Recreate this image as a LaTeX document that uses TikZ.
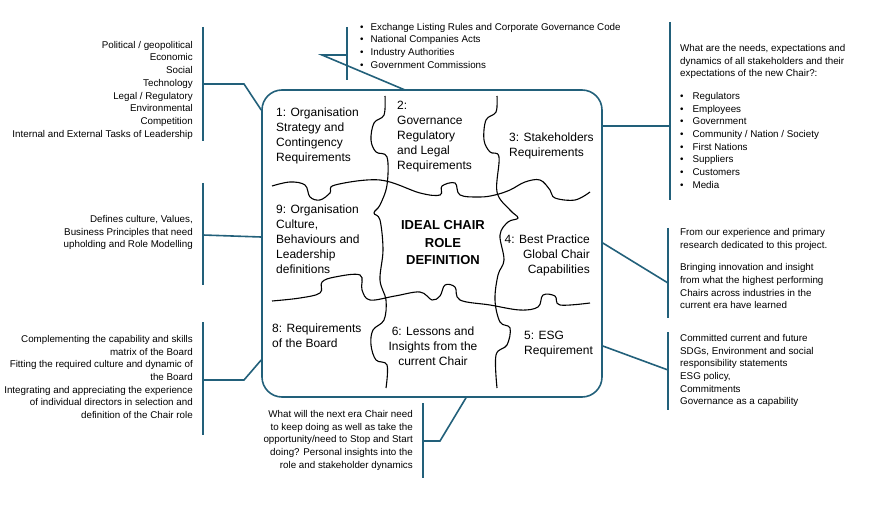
\documentclass[tikz,border=0pt]{standalone}
\usepackage{fontspec}
\setmainfont{Liberation Sans}
\usetikzlibrary{calc}
\definecolor{tealline}{HTML}{22607A}
\tikzset{
  brace/.style={draw=tealline, line width=1.6pt},
  piece/.style={line width=1.1pt, black},
  note/.style={font=\fontsize{9.8}{12.7}\selectfont, inner sep=0pt},
  label/.style={font=\fontsize{12}{15}\selectfont, inner sep=0pt},
}
\begin{document}
\begin{tikzpicture}[x=1pt,y=-1pt]
\useasboundingbox (0,0) rectangle (894,505);
% board frame
\node[draw=tealline, line width=1.6pt, rounded corners=20pt, minimum width=340pt, minimum height=307pt, inner sep=0pt] (board) at (432,243.5) {};
% puzzle cuts
\draw[piece] plot[smooth, tension=0.6] coordinates {(385,96) (384,115) (374,123) (371,140) (376,152) (387,157) (387,185) (380,205) (374,213) (380,220) (383,250) (380,280) (386,300) (384,320) (373,330) (371,345) (376,360) (387,365) (386,388)};
\draw[piece] plot[smooth, tension=0.6] coordinates {(497,96) (496,112) (486,120) (484,140) (490,152) (499,157) (497,192) (510,210) (518,218) (508,222) (500,235) (504,260) (498,275) (495,300) (500,322) (510,328) (507,345) (496,355) (497,388)};
\draw[piece] plot[smooth, tension=0.6] coordinates {(272,186) (290,182) (305,185) (310,197) (320,200) (330,193) (335,185) (380,180) (420,193) (440,195) (442,186) (455,183) (460,195) (480,197) (495,195) (510,190) (525,182) (540,180) (550,190) (555,198) (575,200) (590,192)};
\draw[piece] plot[smooth, tension=0.6] coordinates {(272,301) (300,298) (320,293) (322,282) (335,277) (360,275) (362,290) (370,300) (395,296) (420,292) (432,300) (440,296) (445,285) (455,287) (460,300) (490,305) (520,310) (538,307) (543,295) (555,296) (560,305) (590,303)};
% piece labels
\node[label, anchor=north west, align=left] (p1) at (276,108) {1: Organisation\\Strategy and\\Contingency\\Requirements};
\node[label, anchor=north west, align=left] (p2) at (397,101) {2:\\Governance\\Regulatory\\and Legal\\Requirements};
\node[label, anchor=north west, align=left] (p3) at (509,133) {3: Stakeholders\\Requirements};
\node[label, anchor=north west, align=left] (p9) at (276,205) {9: Organisation\\Culture,\\Behaviours and\\Leadership\\definitions};
\node[label, font=\fontsize{13}{17.5}\selectfont\bfseries, align=center] (centre) at (443,243) {IDEAL CHAIR\\ROLE\\DEFINITION};
\node[label, anchor=north east, align=right] (p4) at (590,235) {4: Best Practice\\Global Chair\\Capabilities};
\node[label, anchor=north west, align=left] (p8) at (272,324) {8: Requirements\\of the Board};
\node[label, anchor=north, align=center] (p6) at (433,327) {6: Lessons and\\Insights from the\\current Chair};
\node[label, anchor=north west, align=left] (p5) at (524,331) {5: ESG\\Requirement};
% notes
\node[note, anchor=north east, align=right] (nPest) at (193,41) {Political / geopolitical\\Economic\\Social\\Technology\\Legal / Regulatory\\Environmental\\Competition\\Internal and External Tasks of Leadership};
\node[note, anchor=north west, align=left] (nRules) at (360,23) {\textbullet\hspace{7pt}Exchange Listing Rules and Corporate Governance Code\\\textbullet\hspace{7pt}National Companies Acts\\\textbullet\hspace{7pt}Industry Authorities\\\textbullet\hspace{7pt}Government Commissions};
\node[note, anchor=north west, align=left] (nStake) at (680,44) {What are the needs, expectations and\\dynamics of all stakeholders and their\\expectations of the new Chair?:\\[10pt]\textbullet\hspace{9pt}Regulators\\\textbullet\hspace{9pt}Employees\\\textbullet\hspace{9pt}Government\\\textbullet\hspace{9pt}Community / Nation / Society\\\textbullet\hspace{9pt}First Nations\\\textbullet\hspace{9pt}Suppliers\\\textbullet\hspace{9pt}Customers\\\textbullet\hspace{9pt}Media};
\node[note, anchor=north west, align=left] (nBest) at (680,228) {From our experience and primary\\research dedicated to this project.\\[10pt]Bringing innovation and insight\\from what the highest performing\\Chairs across industries in the\\current era have learned};
\node[note, anchor=north west, align=left] (nEsg) at (680,334) {Committed current and future\\SDGs, Environment and social\\responsibility statements\\ESG policy,\\Commitments\\Governance as a capability};
\node[note, anchor=north east, align=right] (nCult) at (193,215) {Defines culture, Values,\\Business Principles that need\\upholding and Role Modelling};
\node[note, anchor=north east, align=right] (nBoard) at (193,335) {Complementing the capability and skills\\matrix of the Board\\Fitting the required culture and dynamic of\\the Board\\Integrating and appreciating the experience\\of individual directors in selection and\\definition of the Chair role};
\node[note, anchor=north east, align=right] (nLess) at (413,410) {What will the next era Chair need\\to keep doing as well as take the\\opportunity/need to Stop and Start\\doing? Personal insights into the\\role and stakeholder dynamics};
% brackets and leaders
\coordinate (bPest) at (203,84);
\draw[brace] (203,27) -- (203,141);
\draw[brace] (bPest) -- (244,84) -- (board.west |- 0,110);
\coordinate (bRules) at (347,55);
\draw[brace] (347,27) -- (347,80);
\draw[brace] (bRules) -- (322,55) -- (405,90);
\coordinate (bStake) at (670,126);
\draw[brace] (670,22) -- (670,200);
\draw[brace] (board.east |- bStake) -- (bStake);
\coordinate (bBest) at (668,283);
\draw[brace] (668,228) -- (668,318);
\draw[brace] (board.east |- 0,243) -- (bBest);
\coordinate (bEsg) at (668,370);
\draw[brace] (668,332) -- (668,410);
\draw[brace] (board.east |- 0,346) -- (bEsg);
\coordinate (bCult) at (203,235);
\draw[brace] (203,183) -- (203,285);
\draw[brace] (bCult) -- (board.west |- 0,237);
\coordinate (bBoard) at (203,380);
\draw[brace] (203,322) -- (203,435);
\draw[brace] (bBoard) -- (244,380) -- (board.west |- 0,360);
\coordinate (bLess) at (423,441);
\draw[brace] (423,403) -- (423,478);
\draw[brace] (bLess) -- (440,441) -- (board.south -| 466,0);
\end{tikzpicture}
\end{document}
